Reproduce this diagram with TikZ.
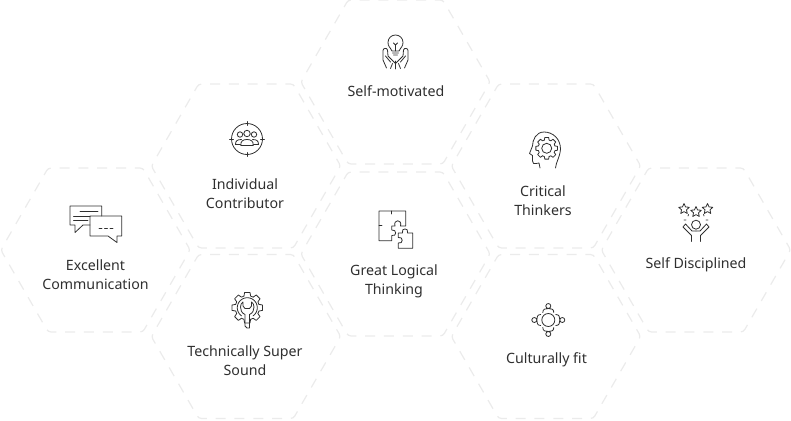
\documentclass[tikz,border=0pt]{standalone}
\usepackage{fontspec}
\setmainfont{Noto Sans}
\usetikzlibrary{shapes.geometric}
\definecolor{hexline}{HTML}{EBEBEB}
\definecolor{inkline}{HTML}{2F2F2F}
\newcommand{\cogwheel}[3]{%
  \foreach \a in {0,45,...,315}
    \draw[icon,shift={(#1,#2)}] ({\a-16}:#3*0.78) -- ({\a-10}:#3) -- ({\a+10}:#3) -- ({\a+16}:#3*0.78) -- ({\a+29}:#3*0.78);}
\begin{document}
\begin{tikzpicture}[x=1pt,y=-1pt,
  hexcell/.style={draw=hexline,line width=1.2pt,dash pattern=on 10pt off 8.82pt,dash phase=5pt,rounded corners=3pt,
                  regular polygon,regular polygon sides=6,
                  minimum size=189.4pt,inner sep=0pt},
  lbl/.style={align=center,text=inkline,font=\fontsize{14.2}{19}\selectfont},
  icon/.style={draw=inkline,line width=0.8pt,line join=round,line cap=round},
  staricon/.style={icon,star,star points=5,star point ratio=2.1,minimum size=11pt,inner sep=0pt}]
  \useasboundingbox (0,0) rectangle (791,420);
  \foreach \n/\x/\y in {comm/95.5/250,indiv/246/166,tech/246/336.5,motiv/395.5/82,logic/395.5/254,crit/546/166,cult/546/336.5,disc/696/250}
    \node[hexcell] (\n) at (\x,\y) {};
  \node[lbl] (tmotiv) at (396,91) {Self-motivated};
  \node[lbl] (tindiv) at (245,193.5) {Individual\\Contributor};
  \node[lbl] (tcomm) at (95.5,274.5) {Excellent\\Communication};
  \node[lbl] (ttech) at (245,360.5) {Technically Super\\Sound};
  \node[lbl] (tlogic) at (394,281) {Great Logical\\Thinking};
  \node[lbl] (tcrit) at (543,200.5) {Critical\\Thinkers};
  \node[lbl] (tcult) at (546.5,359.5) {Culturally fit};
  \node[lbl] (tdisc) at (696,264.5) {Self Disciplined};

  \draw[icon] (392,51) .. controls (390,47) and (388,46.5) .. (388,42.5) .. controls (388,38) and (391.5,35) .. (395.5,35)
    .. controls (399.5,35) and (403,38) .. (403,42.5) .. controls (403,46.5) and (401,47) .. (399,51) -- cycle;
  \draw[icon] (392.5,53) -- (398.5,53) (393.5,55) -- (397.5,55) (395.5,51) -- (395.5,45) (393.5,43) -- (395.5,45) -- (397.5,43);
  \draw[icon] (395.5,61) -- (395.5,69);
  \foreach \s in {1,-1}
    \draw[icon,shift={(395.5,0)},xscale=\s] (-9,68) -- (-12.5,60) -- (-12.5,50.5) .. controls (-12.5,48) and (-8.5,47.5) .. (-8,50) -- (-7.5,56)
      -- (0,63.5) (-5,68.5) -- (-3,63.5) (-10,56) -- (-5,62);

  \draw[icon] (247,139) circle (15.5);
  \draw[icon] (247,121.5) -- (247,125.5) (247,152.5) -- (247,156.5) (229.5,139) -- (233.5,139) (260.5,139) -- (264.5,139);
  \draw[icon] (240,134.5) circle (2.7) (247,133.5) circle (3.2) (254,134.5) circle (2.7);
  \draw[icon] (240.8,145.5) .. controls (240.5,141) and (243,139.5) .. (247,139.5) .. controls (251,139.5) and (253.5,141) .. (253.2,145.5) -- cycle;
  \draw[icon] (240.5,144.5) -- (235.5,144.5) .. controls (235.5,141) and (237,139.5) .. (241.5,139.5)
    (253.5,144.5) -- (258.5,144.5) .. controls (258.5,141) and (257,139.5) .. (252.5,139.5);

  \draw[icon] (90,225) -- (83,225) -- (75,232.5) -- (75,225) -- (70,225) -- (70,206) -- (101.7,206) -- (101.7,216);
  \draw[icon] (90,216) -- (121.7,216) -- (121.7,236) -- (117,236) -- (117,242.5) -- (108,236) -- (90,236) -- cycle;
  \draw[icon] (80,211.5) -- (98,211.5) (73.5,216) -- (90,216) (73.5,220) -- (88,220);
  \draw[icon] (99,228) -- (102,228) (104.5,228) -- (107.5,228) (110,228) -- (113,228);

  \cogwheel{247.3}{307.7}{15.5}
  \draw[icon] plot[domain=125:415,samples=30] ({247.3+10*cos(\x)},{307.7+10*sin(\x)});
  \draw[icon] (245,326) -- (245,314.5) .. controls (241.5,313) and (240.5,310) .. (240.5,307) .. controls (240.5,304.5) and (241.5,303) .. (243,302)
    -- (243,306) -- (245,308.5) -- (249.5,308.5) -- (251.5,306) -- (251.5,302) .. controls (253,303) and (254,304.5) .. (254,307)
    .. controls (254,310) and (253,313) .. (249.5,314.5) -- (249.5,328) -- (247,328) -- cycle;

  \draw[icon] (405.7,226) -- (405.7,211) -- (379,211) -- (379,240.7) -- (391.7,240.7) -- (391.7,235.5) .. controls (397,237) and (397,229) .. (391.7,230)
    -- (391.7,226) -- (395,226) .. controls (393,219) and (402.5,219) .. (400.5,226) -- cycle;
  \draw[icon] (391.7,211) -- (391.7,214) (379,225.5) -- (382,225.5);
  \draw[icon] (398.3,233) -- (402.5,233) .. controls (400.5,227.5) and (409.5,227.5) .. (407.5,233) -- (412.7,233) -- (412.7,248.3) -- (398.3,248.3) -- (398.3,243)
    .. controls (403.5,244.5) and (403.5,236) .. (398.3,237.5) -- cycle;

  \draw[icon] (555.5,168) .. controls (556,162) and (560,157) .. (560.5,149) .. controls (560.5,139) and (553,132) .. (544,132)
    .. controls (536,132) and (532.5,140) .. (532.5,146) -- (529.5,153.5) -- (532.5,155.5) -- (532.5,161)
    .. controls (532.5,163.5) and (534,164) .. (536,163.5) -- (539,163) -- (540,168);
  \cogwheel{546.7}{148.3}{11}
  \draw[icon] (546.7,148.3) circle (5);

  \draw[icon] (548.3,320) circle (6.5);
  \foreach \a in {0,90,180,270}
    \draw[icon,shift={(548.3,320)},rotate=\a] (0,-14) circle (2.5)
      (-5.5,-7.5) .. controls (-5.5,-11) and (-3,-11.5) .. (0,-11.5) .. controls (3,-11.5) and (5.5,-11) .. (5.5,-7.5);

  \foreach \n/\x/\y in {1/684/209,2/696/212,3/707.5/209}
    \node[staricon] (star\n) at (\x,\y) {};
  \draw[icon] (696,224.7) circle (4.5);
  \foreach \s in {1,-1}
    \draw[icon,shift={(696,0)},xscale=\s] (-4.5,241.5) -- (-4.5,235.5) -- (-13,227) -- (-10.5,224) -- (-4,231) -- (0,231)
      (-12,220) -- (-10,220) (-8,216) -- (-7.5,214.5);
\end{tikzpicture}
\end{document}
